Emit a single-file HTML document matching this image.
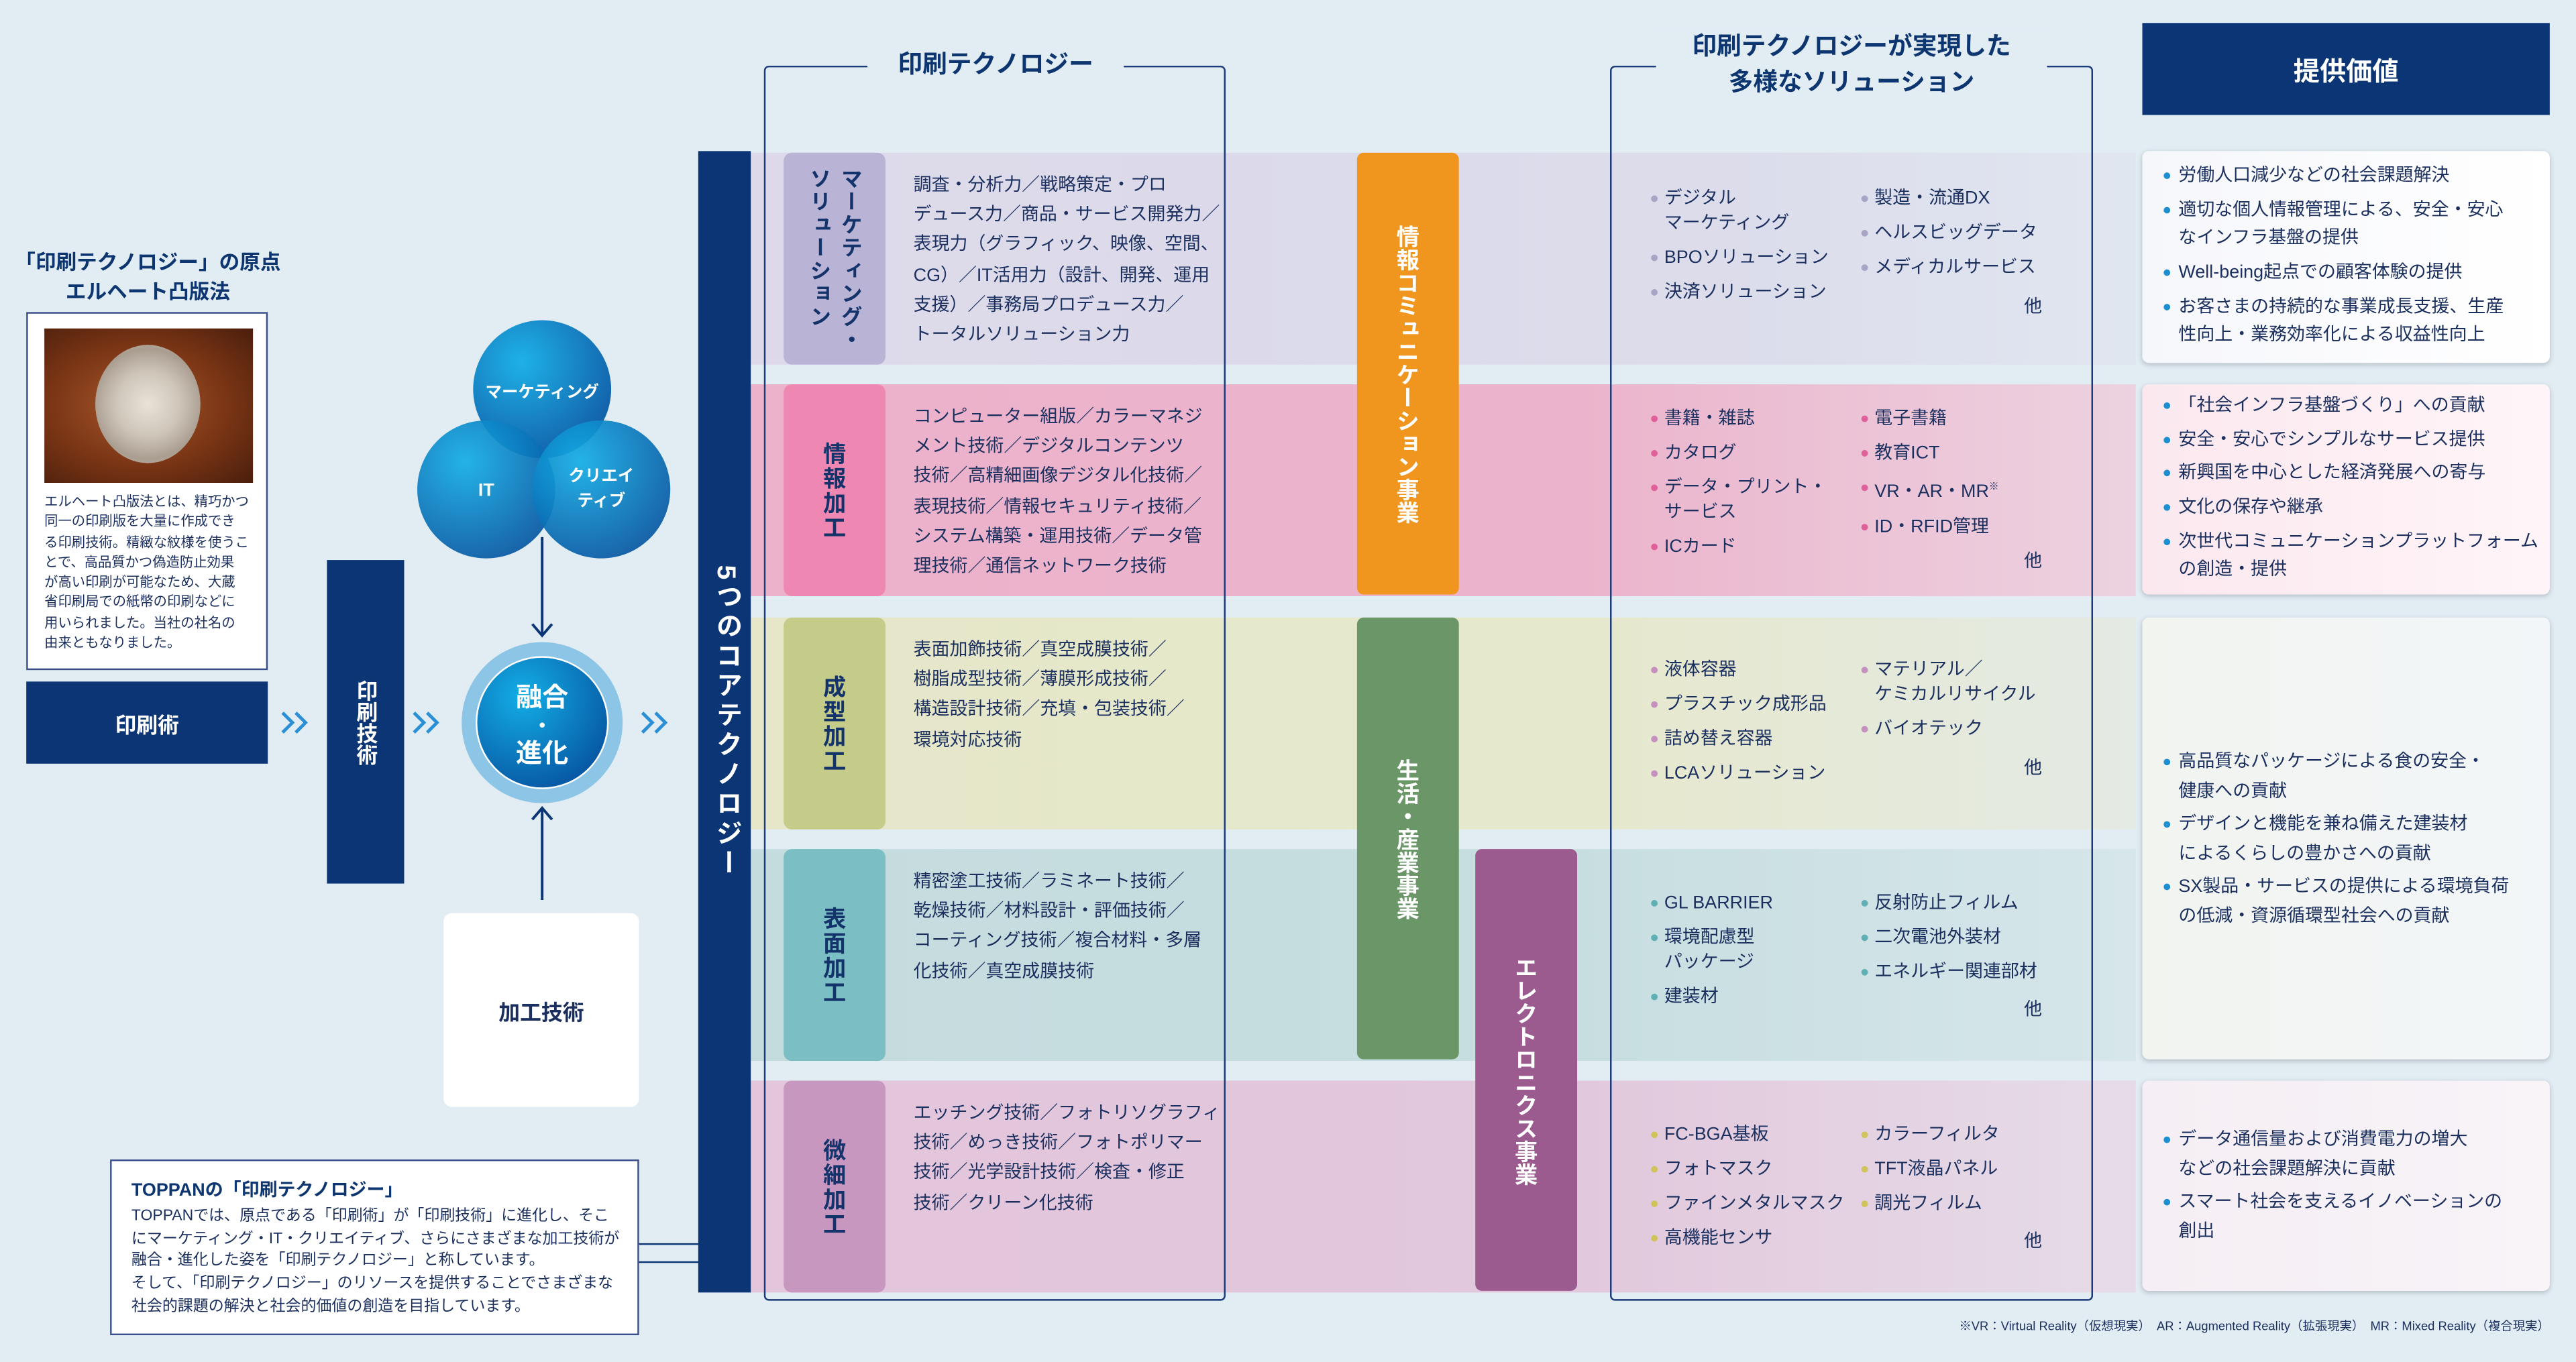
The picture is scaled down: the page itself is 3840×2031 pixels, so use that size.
<!DOCTYPE html>
<html><head><meta charset="utf-8"><style>
*{margin:0;padding:0;box-sizing:border-box}
html,body{width:3840px;height:2031px;overflow:hidden;background:#e1ecf3}
#s{position:absolute;left:0;top:0;width:1568px;height:829px;transform:scale(2.449);transform-origin:0 0;font-family:"Liberation Sans","Noto Sans CJK JP",sans-serif;color:#1b2f5e}
.a{position:absolute}
.v{writing-mode:vertical-rl;font-weight:bold;display:flex;align-items:center;justify-content:center;color:#fff}
.navy{background:#0b3575}
.row{position:absolute;left:457px;width:843px;height:129px}
.lab{position:absolute;left:477px;width:62px;height:129px;border-radius:5px;color:#13336a;font-size:14px;letter-spacing:1px}
.tech{position:absolute;left:556px;font-size:11px;line-height:18.2px;white-space:nowrap}
.sol{position:absolute;font-size:11px;line-height:14.5px;white-space:nowrap}
.sol div{position:relative;padding-left:8px;margin-bottom:6.5px}
.sol div:before{content:"";position:absolute;left:0;top:5px;width:4px;height:4px;border-radius:50%;background:var(--b)}
.oth{position:absolute;left:1232px;font-size:11px}
.val{position:absolute;left:1304px;width:248px;border-radius:4px;box-shadow:0 1px 3px rgba(0,0,0,.2);font-size:11px;line-height:17.5px;padding-left:12px;white-space:nowrap}
.val div{position:relative;padding-left:10px;margin-bottom:3.2px}
.val div:before{content:"";position:absolute;left:1px;top:6px;width:4px;height:4px;border-radius:50%;background:#1d8fd0}
</style></head><body><div id="s">

<div class="a" style="left:0;top:151px;width:180px;text-align:center;font-weight:bold;font-size:12.5px;line-height:18px;color:#0d3570">「印刷テクノロジー」の原点<br>エルヘート凸版法</div>
<div class="a" style="left:16px;top:190px;width:147px;height:218px;background:#fff;border:1px solid #3a4f8a"></div>
<div class="a" style="left:27px;top:200px;width:127px;height:94px;background:radial-gradient(ellipse at 45% 50%,#a8582a 0%,#7a3515 55%,#4a1e0c 100%)"></div>
<div class="a" style="left:58px;top:210px;width:64px;height:72px;border-radius:50%;background:radial-gradient(circle,#e8e2d8 0%,#cfc6ba 40%,#a99d90 70%,#d8d0c4 100%)"></div>
<div class="a" style="left:27px;top:299px;font-size:8.3px;line-height:12.3px;white-space:nowrap">エルヘート凸版法とは、精巧かつ<br>同一の印刷版を大量に作成でき<br>る印刷技術。精緻な紋様を使うこ<br>とで、高品質かつ偽造防止効果<br>が高い印刷が可能なため、大蔵<br>省印刷局での紙幣の印刷などに<br>用いられました。当社の社名の<br>由来ともなりました。</div>
<div class="a navy" style="left:16px;top:415px;width:147px;height:50px;color:#fff;font-weight:bold;font-size:13px;display:flex;align-items:center;justify-content:center">印刷術</div>
<svg class="a" style="left:0;top:0" width="420" height="460">
<g fill="none" stroke="#2a8fd4" stroke-width="2"><path d="M172 434l6 6-6 6M180 434l6 6-6 6M252 434l6 6-6 6M260 434l6 6-6 6M391 434l6 6-6 6M399 434l6 6-6 6"/></g></svg>
<div class="a navy v" style="left:199px;top:341px;width:47px;height:197px;font-size:13px">印刷技術</div>

<svg class="a" style="left:250px;top:190px" width="160" height="370" viewBox="250 190 160 370">
<defs><radialGradient id="g" cx="35%" cy="30%" r="75%"><stop offset="0" stop-color="#13aee6"/><stop offset="1" stop-color="#0757a3"/></radialGradient></defs>
<circle cx="330" cy="237" r="42" fill="url(#g)" opacity=".95"/>
<circle cx="296" cy="298" r="42" fill="url(#g)" opacity=".92"/>
<circle cx="366" cy="298" r="42" fill="url(#g)" opacity=".92"/>
<text x="330" y="242" fill="#fff" font-size="10" font-weight="bold" text-anchor="middle">マーケティング</text>
<text x="296" y="302" fill="#fff" font-size="11" font-weight="bold" text-anchor="middle">IT</text>
<text x="366" y="293" fill="#fff" font-size="10" font-weight="bold" text-anchor="middle">クリエイ</text>
<text x="366" y="308" fill="#fff" font-size="10" font-weight="bold" text-anchor="middle">ティブ</text>
<line x1="330" y1="327" x2="330" y2="386" stroke="#0b3575" stroke-width="1.6"/>
<path d="M324 380 L330 387 L336 380" fill="none" stroke="#0b3575" stroke-width="1.6"/>
<circle cx="330" cy="440" r="49" fill="#8cc5e6"/>
<circle cx="330" cy="440" r="40" fill="url(#g)" stroke="#fff" stroke-width="1"/>
<text x="330" y="430" fill="#fff" font-size="16" font-weight="bold" text-anchor="middle">融合</text>
<text x="330" y="446" fill="#fff" font-size="12" font-weight="bold" text-anchor="middle">・</text>
<text x="330" y="464" fill="#fff" font-size="16" font-weight="bold" text-anchor="middle">進化</text>
<line x1="330" y1="492" x2="330" y2="548" stroke="#0b3575" stroke-width="1.6"/>
<path d="M324 499 L330 492 L336 499" fill="none" stroke="#0b3575" stroke-width="1.6"/>
</svg>
<div class="a" style="left:270px;top:556px;width:119px;height:118px;background:#fff;border-radius:5px;font-weight:bold;font-size:13px;display:flex;align-items:center;justify-content:center">加工技術</div>

<div class="a" style="left:67px;top:706px;width:322px;height:107px;background:#fff;border:1px solid #3a4f8a"></div>
<div class="a" style="left:80px;top:716px;font-weight:bold;font-size:11px;color:#0d3570">TOPPANの「印刷テクノロジー」</div>
<div class="a" style="left:80px;top:733px;font-size:9.4px;line-height:13.7px;white-space:nowrap">TOPPANでは、原点である「印刷術」が「印刷技術」に進化し、そこ<br>にマーケティング・IT・クリエイティブ、さらにさまざまな加工技術が<br>融合・進化した姿を「印刷テクノロジー」と称しています。<br>そして、「印刷テクノロジー」のリソースを提供することでさまざまな<br>社会的課題の解決と社会的価値の創造を目指しています。</div>
<div class="a" style="left:389px;top:757px;width:37px;height:12px;border-top:1px solid #0b3575;border-bottom:1px solid #0b3575"></div>

<div class="row" style="top:93px;background:linear-gradient(90deg,#ddd9ea,#dcdceb 70%,#e0e6f0)"></div>
<div class="row" style="top:234px;background:linear-gradient(90deg,#ecb2cb,#ebb4cc 60%,#ecd2e0)"></div>
<div class="row" style="top:376px;background:linear-gradient(90deg,#e6e7c9,#e6e8cc 60%,#e4eae4)"></div>
<div class="row" style="top:517px;background:linear-gradient(90deg,#c5dcdf,#c7dee0 60%,#d6e6ea)"></div>
<div class="row" style="top:658px;background:linear-gradient(90deg,#e3c5dc,#e2c8dc 60%,#e6dce8)"></div>
<div class="a navy v" style="left:425px;top:92px;width:32px;height:695px;font-size:16px;letter-spacing:2px">5つのコアテクノロジー</div>

<div class="lab v" style="top:93px;background:#b9b3d6;font-size:13px;color:#13336a">マーケティング・<br>ソリューション</div>
<div class="lab v" style="top:234px;background:#ee88b3;color:#13336a">情報加工</div>
<div class="lab v" style="top:376px;background:#c5cc8a;color:#13336a">成型加工</div>
<div class="lab v" style="top:517px;background:#7bbfc4;color:#13336a">表面加工</div>
<div class="lab v" style="top:658px;background:#c897c0;color:#13336a">微細加工</div>

<div class="tech" style="top:104px">調査・分析力／戦略策定・プロ<br>デュース力／商品・サービス開発力／<br>表現力（グラフィック、映像、空間、<br>CG）／IT活用力（設計、開発、運用<br>支援）／事務局プロデュース力／<br>トータルソリューション力</div>
<div class="tech" style="top:245px">コンピューター組版／カラーマネジ<br>メント技術／デジタルコンテンツ<br>技術／高精細画像デジタル化技術／<br>表現技術／情報セキュリティ技術／<br>システム構築・運用技術／データ管<br>理技術／通信ネットワーク技術</div>
<div class="tech" style="top:387px">表面加飾技術／真空成膜技術／<br>樹脂成型技術／薄膜形成技術／<br>構造設計技術／充填・包装技術／<br>環境対応技術</div>
<div class="tech" style="top:528px">精密塗工技術／ラミネート技術／<br>乾燥技術／材料設計・評価技術／<br>コーティング技術／複合材料・多層<br>化技術／真空成膜技術</div>
<div class="tech" style="top:669px">エッチング技術／フォトリソグラフィ<br>技術／めっき技術／フォトポリマー<br>技術／光学設計技術／検査・修正<br>技術／クリーン化技術</div>

<div class="a" style="left:465px;top:40px;width:281px;height:752px;border:1px solid #1b3a7a;border-radius:3px"></div>
<div class="a" style="left:528px;top:28px;width:156px;height:24px;background:#e1ecf3;text-align:center;font-weight:bold;font-size:15px;line-height:24px;color:#0d3570">印刷テクノロジー</div>
<div class="a" style="left:980px;top:40px;width:294px;height:752px;border:1px solid #1b3a7a;border-radius:3px"></div>
<div class="a" style="left:1008px;top:18px;width:238px;height:46px;background:#e1ecf3;text-align:center;font-weight:bold;font-size:15px;line-height:22px;color:#0d3570">印刷テクノロジーが実現した<br>多様なソリューション</div>

<div class="a v" style="left:826px;top:93px;width:62px;height:269px;background:#f0961e;border-radius:4px;font-size:14px">情報コミュニケーション事業</div>
<div class="a v" style="left:826px;top:376px;width:62px;height:269px;background:#6b9668;border-radius:4px;font-size:14px">生活・産業事業</div>
<div class="a v" style="left:898px;top:517px;width:62px;height:269px;background:#9c5b8e;border-radius:4px;font-size:14px">エレクトロニクス事業</div>

<div class="sol" style="left:1005px;top:114px;--b:#a8a4c6"><div>デジタル<br>マーケティング</div><div>BPOソリューション</div><div>決済ソリューション</div></div>
<div class="sol" style="left:1133px;top:114px;--b:#a8a4c6"><div>製造・流通DX</div><div>ヘルスビッグデータ</div><div>メディカルサービス</div></div>
<div class="oth" style="top:178px">他</div>
<div class="sol" style="left:1005px;top:248px;--b:#e0609a"><div>書籍・雑誌</div><div>カタログ</div><div>データ・プリント・<br>サービス</div><div>ICカード</div></div>
<div class="sol" style="left:1133px;top:248px;--b:#e0609a"><div>電子書籍</div><div>教育ICT</div><div>VR・AR・MR<sup style="font-size:6px">※</sup></div><div>ID・RFID管理</div></div>
<div class="oth" style="top:333px">他</div>
<div class="sol" style="left:1005px;top:401px;--b:#c58fc0"><div>液体容器</div><div>プラスチック成形品</div><div>詰め替え容器</div><div>LCAソリューション</div></div>
<div class="sol" style="left:1133px;top:401px;--b:#c58fc0"><div>マテリアル／<br>ケミカルリサイクル</div><div>バイオテック</div></div>
<div class="oth" style="top:459px">他</div>
<div class="sol" style="left:1005px;top:543px;--b:#5fb0b5"><div>GL BARRIER</div><div>環境配慮型<br>パッケージ</div><div>建装材</div></div>
<div class="sol" style="left:1133px;top:543px;--b:#5fb0b5"><div>反射防止フィルム</div><div>二次電池外装材</div><div>エネルギー関連部材</div></div>
<div class="oth" style="top:606px">他</div>
<div class="sol" style="left:1005px;top:684px;--b:#cfc35a"><div>FC-BGA基板</div><div>フォトマスク</div><div>ファインメタルマスク</div><div>高機能センサ</div></div>
<div class="sol" style="left:1133px;top:684px;--b:#cfc35a"><div>カラーフィルタ</div><div>TFT液晶パネル</div><div>調光フィルム</div></div>
<div class="oth" style="top:747px">他</div>

<div class="a navy" style="left:1304px;top:14px;width:248px;height:56px;color:#fff;font-weight:bold;font-size:16px;display:flex;align-items:center;justify-content:center">提供価値</div>
<div class="val" style="top:92px;height:129px;padding-top:7px;background:linear-gradient(90deg,#f6f7fb,#fff)"><div>労働人口減少などの社会課題解決</div><div>適切な個人情報管理による、安全・安心<br>なインフラ基盤の提供</div><div>Well-being起点での顧客体験の提供</div><div>お客さまの持続的な事業成長支援、生産<br>性向上・業務効率化による収益性向上</div></div>
<div class="val" style="top:234px;height:128px;padding-top:5px;background:linear-gradient(90deg,#fbe8ef,#fff5f8)"><div>「社会インフラ基盤づくり」への貢献</div><div>安全・安心でシンプルなサービス提供</div><div>新興国を中心とした経済発展への寄与</div><div>文化の保存や継承</div><div>次世代コミュニケーションプラットフォーム<br>の創造・提供</div></div>
<div class="val" style="top:376px;height:269px;padding-top:80px;background:linear-gradient(90deg,#f2f4f0,#f2f6f8)"><div>高品質なパッケージによる食の安全・<br>健康への貢献</div><div>デザインと機能を兼ね備えた建装材<br>によるくらしの豊かさへの貢献</div><div>SX製品・サービスの提供による環境負荷<br>の低減・資源循環型社会への貢献</div></div>
<div class="val" style="top:658px;height:128px;padding-top:28px;background:linear-gradient(90deg,#f5eef4,#f8f4f8)"><div>データ通信量および消費電力の増大<br>などの社会課題解決に貢献</div><div>スマート社会を支えるイノベーションの<br>創出</div></div>

<div class="a" style="right:16px;top:802px;font-size:7.5px">※VR：Virtual Reality（仮想現実）　AR：Augmented Reality（拡張現実）　MR：Mixed Reality（複合現実）</div>
</div></body></html>
